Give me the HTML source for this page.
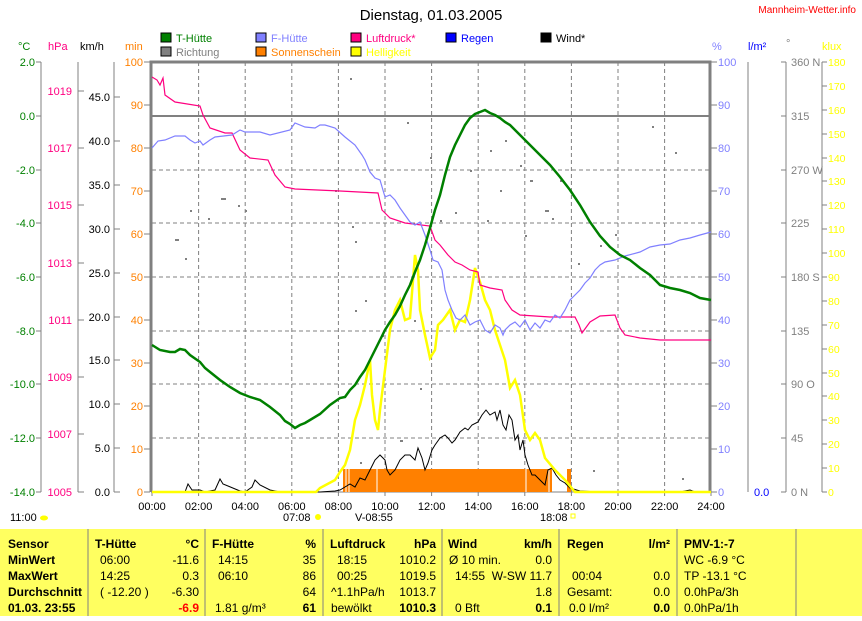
<!DOCTYPE html>
<html><head><meta charset="utf-8"><style>
body{margin:0;background:#fff;width:862px;height:616px;overflow:hidden;font-family:"Liberation Sans",sans-serif}
svg text{font-family:"Liberation Sans",sans-serif}
</style></head><body>
<svg width="862" height="616" xmlns="http://www.w3.org/2000/svg" font-size="11">
<rect width="862" height="616" fill="#fff"/>
<text x="431" y="20" font-size="15" text-anchor="middle">Dienstag, 01.03.2005</text>
<text x="856" y="13" font-size="10" fill="#f00" text-anchor="end">Mannheim-Wetter.info</text>
<!-- legend -->
<g font-size="11">
<rect x="161" y="33" width="10" height="9" fill="#008000" stroke="#000"/><text x="176" y="42" fill="#008000">T-Hütte</text>
<rect x="161" y="47" width="10" height="9" fill="#808080" stroke="#000"/><text x="176" y="56" fill="#808080">Richtung</text>
<rect x="256" y="33" width="10" height="9" fill="#8080ff" stroke="#000"/><text x="271" y="42" fill="#8080ff">F-Hütte</text>
<rect x="256" y="47" width="10" height="9" fill="#ff8000" stroke="#000"/><text x="271" y="56" fill="#ff8000">Sonnenschein</text>
<rect x="351" y="33" width="10" height="9" fill="#ff0080" stroke="#000"/><text x="366" y="42" fill="#ff0080">Luftdruck*</text>
<rect x="351" y="47" width="10" height="9" fill="#ffff00" stroke="#000"/><text x="366" y="56" fill="#ffff00">Helligkeit</text>
<rect x="446" y="33" width="10" height="9" fill="#0000ff" stroke="#000"/><text x="461" y="42" fill="#0000ff">Regen</text>
<rect x="541" y="33" width="10" height="9" fill="#000" stroke="#000"/><text x="556" y="42">Wind*</text>
</g>
<!-- axis titles -->
<text x="18" y="50" fill="#008000">°C</text>
<text x="48" y="50" fill="#ff0080">hPa</text>
<text x="80" y="50">km/h</text>
<text x="125" y="50" fill="#ff8000">min</text>
<text x="712" y="50" fill="#8080ff">%</text>
<text x="748" y="50" fill="#0000ff">l/m²</text>
<text x="786" y="47" fill="#808080">°</text>
<text x="822" y="50" fill="#ffff00">klux</text>
<!-- axis lines -->
<g stroke="#808080" stroke-width="1">
<line x1="41" y1="62" x2="41" y2="492"/><line x1="78" y1="62" x2="78" y2="492"/><line x1="114" y1="62" x2="114" y2="492"/>
<line x1="748" y1="62" x2="748" y2="492"/><line x1="786" y1="62" x2="786" y2="492"/><line x1="822" y1="62" x2="822" y2="492"/>
</g>
<g id="ticks" stroke="#808080">
<path d="M36 62h5M36 116h5M36 170h5M36 223h5M36 277h5M36 331h5M36 384h5M36 438h5M36 492h5"/>
<path d="M78 91h6M78 148h6M78 205h6M78 263h6M78 320h6M78 377h6M78 434h6M78 492h6"/>
<path d="M114 97h6M114 141h6M114 185h6M114 229h6M114 273h6M114 317h6M114 360h6M114 404h6M114 448h6M114 492h6"/>
<path d="M144 62h6M144 105h6M144 148h6M144 191h6M144 234h6M144 277h6M144 320h6M144 363h6M144 406h6M144 449h6M144 492h6"/>
<path d="M711 62h6M711 105h6M711 148h6M711 191h6M711 234h6M711 277h6M711 320h6M711 363h6M711 406h6M711 449h6M711 492h6"/>
<path d="M781 62h5M781 116h5M781 170h5M781 223h5M781 277h5M781 331h5M781 384h5M781 438h5M781 492h5"/>
<path d="M822 62h5M822 86h5M822 110h5M822 134h5M822 158h5M822 181h5M822 205h5M822 229h5M822 253h5M822 277h5M822 301h5M822 325h5M822 349h5M822 373h5M822 396h5M822 420h5M822 444h5M822 468h5M822 492h5"/>
</g>
<g fill="#008000" text-anchor="end">
<text x="35" y="66">2.0</text><text x="35" y="120">0.0</text><text x="35" y="174">-2.0</text><text x="35" y="227">-4.0</text><text x="35" y="281">-6.0</text><text x="35" y="335">-8.0</text><text x="35" y="388">-10.0</text><text x="35" y="442">-12.0</text><text x="35" y="496">-14.0</text>
</g>
<g fill="#ff0080" text-anchor="end">
<text x="72" y="95">1019</text><text x="72" y="152">1017</text><text x="72" y="209">1015</text><text x="72" y="267">1013</text><text x="72" y="324">1011</text><text x="72" y="381">1009</text><text x="72" y="438">1007</text><text x="72" y="496">1005</text>
</g>
<g fill="#000" text-anchor="end">
<text x="110" y="101">45.0</text><text x="110" y="145">40.0</text><text x="110" y="189">35.0</text><text x="110" y="233">30.0</text><text x="110" y="277">25.0</text><text x="110" y="321">20.0</text><text x="110" y="364">15.0</text><text x="110" y="408">10.0</text><text x="110" y="452">5.0</text><text x="110" y="496">0.0</text>
</g>
<g fill="#ff8000" text-anchor="end">
<text x="143" y="66">100</text><text x="143" y="109">90</text><text x="143" y="152">80</text><text x="143" y="195">70</text><text x="143" y="238">60</text><text x="143" y="281">50</text><text x="143" y="324">40</text><text x="143" y="367">30</text><text x="143" y="410">20</text><text x="143" y="453">10</text><text x="143" y="496">0</text>
</g>
<g fill="#8080ff">
<text x="718" y="66">100</text><text x="718" y="109">90</text><text x="718" y="152">80</text><text x="718" y="195">70</text><text x="718" y="238">60</text><text x="718" y="281">50</text><text x="718" y="324">40</text><text x="718" y="367">30</text><text x="718" y="410">20</text><text x="718" y="453">10</text><text x="718" y="496">0</text>
</g>
<text x="754" y="496" fill="#0000ff">0.0</text>
<g fill="#808080">
<text x="791" y="66">360 N</text><text x="791" y="120">315</text><text x="791" y="174">270 W</text><text x="791" y="227">225</text><text x="791" y="281">180 S</text><text x="791" y="335">135</text><text x="791" y="388">90  O</text><text x="791" y="442">45</text><text x="791" y="496">0  N</text>
</g>
<g fill="#ffff00" font-size="10.5">
<text x="828" y="66">180</text><text x="828" y="90">170</text><text x="828" y="114">160</text><text x="828" y="138">150</text><text x="828" y="162">140</text><text x="828" y="185">130</text><text x="828" y="209">120</text><text x="828" y="233">110</text><text x="828" y="257">100</text><text x="828" y="281">90</text><text x="828" y="305">80</text><text x="828" y="329">70</text><text x="828" y="353">60</text><text x="828" y="377">50</text><text x="828" y="400">40</text><text x="828" y="424">30</text><text x="828" y="448">20</text><text x="828" y="472">10</text><text x="828" y="496">0</text>
</g>
<!-- grid -->
<g stroke="#808080" stroke-dasharray="4,3">
<path d="M152 170H711M152 223H711M152 277H711M152 331H711M152 384H711M152 438H711"/>
<path d="M198.6 62V492M245.2 62V492M291.8 62V492M338.4 62V492M385 62V492M431.6 62V492M478.2 62V492M524.8 62V492M571.4 62V492M618 62V492M664.6 62V492"/>
</g>
<g stroke="#808080" stroke-width="3" fill="none">
<path d="M151 492V62H710V492"/>
</g>
<line x1="151" y1="116" x2="710" y2="116" stroke="#808080" stroke-width="2"/>
<line x1="151" y1="492" x2="710" y2="492" stroke="#808080" stroke-width="1"/>
<g stroke="#808080"><path d="M198.6 492v4M245.2 492v4M291.8 492v4M338.4 492v4M385 492v4M431.6 492v4M478.2 492v4M524.8 492v4M571.4 492v4M618 492v4M664.6 492v4M711 492v4M152 492v4"/></g>
<!-- direction dots -->
<g fill="#808080">
<rect x="350" y="78" width="2" height="2"/><rect x="407" y="122" width="2" height="2"/><rect x="221" y="198" width="5" height="2"/><rect x="190" y="210" width="2" height="2"/><rect x="238" y="205" width="2" height="2"/><rect x="208" y="218" width="2" height="2"/><rect x="245" y="210" width="2" height="2"/><rect x="175" y="239" width="4" height="2"/><rect x="185" y="258" width="2" height="2"/><rect x="335" y="190" width="2" height="2"/><rect x="352" y="226" width="2" height="2"/><rect x="355" y="241" width="2" height="2"/><rect x="365" y="300" width="2" height="2"/><rect x="382" y="335" width="2" height="2"/><rect x="355" y="310" width="2" height="2"/><rect x="430" y="157" width="2" height="2"/><rect x="440" y="220" width="2" height="2"/><rect x="455" y="212" width="2" height="2"/><rect x="470" y="170" width="2" height="2"/><rect x="487" y="220" width="2" height="2"/><rect x="500" y="190" width="2" height="2"/><rect x="520" y="165" width="2" height="2"/><rect x="530" y="180" width="3" height="2"/><rect x="545" y="210" width="4" height="2"/><rect x="552" y="218" width="2" height="2"/><rect x="560" y="180" width="2" height="2"/><rect x="505" y="140" width="2" height="2"/><rect x="490" y="150" width="2" height="2"/><rect x="525" y="235" width="2" height="2"/><rect x="578" y="263" width="2" height="2"/><rect x="600" y="245" width="2" height="2"/><rect x="615" y="234" width="2" height="2"/><rect x="652" y="126" width="2" height="2"/><rect x="675" y="152" width="2" height="2"/><rect x="420" y="388" width="2" height="2"/><rect x="400" y="440" width="3" height="2"/><rect x="360" y="462" width="2" height="2"/><rect x="414" y="320" width="2" height="2"/><rect x="682" y="478" width="2" height="2"/><rect x="593" y="470" width="2" height="2"/></g>
<!-- sunshine -->
<rect x="343" y="469" width="209" height="23" fill="#ff8000"/>
<rect x="567" y="469" width="4" height="23" fill="#ff8000"/>
<g stroke="#fff"><path d="M346 469v23M349 469v23M377 469v23M526 469v23M549 469v23"/></g>
<!-- wind -->
<polyline fill="none" stroke="#000" stroke-width="1" points="152,492 185,492 188,484 192,490 200,490 205,492 215,490 220,479 223,484 228,486 240,491 245,492 252,487 255,480 260,485 270,490 280,492 320,492 335,491 340,490 345,487 350,484 355,487 360,478 365,480 370,470 375,460 380,455 385,460 387,470 390,475 395,470 400,460 405,455 410,455 415,460 418,448 422,458 425,470 428,463 432,450 435,445 440,438 445,435 448,438 452,443 455,440 460,432 465,428 468,430 472,425 478,422 482,415 486,410 490,415 495,412 497,420 500,410 503,425 506,430 509,415 512,420 515,440 518,435 520,450 523,440 525,455 528,465 532,475 535,475 540,480 545,485 548,470 552,468 556,475 560,480 565,483 570,488 580,491 600,492 680,492 690,490 695,492 711,492"/>
<!-- helligkeit -->
<polyline fill="none" stroke="#ffff00" stroke-width="2.5" points="152,492 316,492 320,488 335,480 340,472 345,465 350,450 355,420 360,405 365,385 370,360 372,395 375,420 378,430 380,410 385,370 390,330 395,310 400,300 405,320 410,318 415,255 418,270 420,310 425,335 430,358 435,350 438,325 443,320 450,310 455,330 460,320 465,322 470,300 475,268 480,282 485,300 490,310 495,330 500,345 505,360 510,388 515,380 520,395 525,430 530,440 535,433 540,440 545,458 555,470 565,480 575,492 711,492"/>
<!-- luftdruck -->
<polyline fill="none" stroke="#ff0080" stroke-width="1.2" points="152,77 157,80 160,85 163,78 165,95 175,102 200,106 203,115 210,128 225,133 232,133 240,150 250,158 268,160 275,175 285,187 295,189 340,191 378,193 382,210 390,218 405,223 430,226 435,240 440,245 448,255 455,262 462,265 470,270 478,272 480,285 490,288 502,290 505,300 512,310 520,315 550,317 575,317 579,325 582,333 590,322 600,316 615,315 620,328 625,335 640,338 660,340 711,340"/>
<!-- F-Huette -->
<polyline fill="none" stroke="#8080ff" stroke-width="1.2" points="152,148 158,141 165,140 175,136 185,136 190,140 195,143 200,141 203,145 210,140 215,137 232,135 240,130 245,132 260,132 270,135 290,130 295,123 305,127 315,128 320,125 325,125 335,128 345,137 355,145 362,155 365,160 370,172 375,178 380,180 385,197 390,195 395,200 400,208 405,215 410,222 415,225 420,222 425,235 430,250 433,260 438,262 442,270 445,290 448,300 452,310 456,318 460,320 465,315 470,325 475,322 480,320 485,330 490,333 495,325 500,328 503,335 505,330 510,325 515,322 520,327 525,320 530,330 535,323 540,328 545,320 550,322 555,315 560,318 565,310 570,300 575,295 580,290 585,283 590,278 595,270 600,265 605,262 615,260 625,256 640,252 650,247 660,245 670,244 680,240 690,238 700,235 711,232"/>
<!-- T-Huette -->
<polyline fill="none" stroke="#008000" stroke-width="2.5" points="152,345 160,350 170,352 175,352 180,349 185,350 190,355 200,362 205,368 210,372 220,380 230,387 240,393 250,397 260,400 270,407 280,415 285,421 290,424 295,428 300,425 305,423 310,420 320,414 330,405 340,398 345,397 350,390 355,385 360,377 365,370 370,360 375,350 380,340 385,330 390,322 395,315 400,306 405,295 410,285 415,272 420,260 425,245 430,228 435,210 440,195 445,175 450,157 455,145 460,135 465,125 470,118 475,114 480,112 485,110 490,113 495,115 500,118 505,122 510,125 515,130 520,135 530,145 540,155 550,165 560,177 570,190 580,205 590,222 600,236 610,247 620,255 630,260 640,268 650,275 660,285 670,288 680,290 690,293 700,298 711,300"/>
<!-- time labels -->
<g text-anchor="middle">
<text x="152" y="510">00:00</text><text x="198.6" y="510">02:00</text><text x="245.2" y="510">04:00</text><text x="291.8" y="510">06:00</text><text x="338.4" y="510">08:00</text><text x="385" y="510">10:00</text><text x="431.6" y="510">12:00</text><text x="478.2" y="510">14:00</text><text x="524.8" y="510">16:00</text><text x="571.4" y="510">18:00</text><text x="618" y="510">20:00</text><text x="664.6" y="510">22:00</text><text x="711" y="510">24:00</text>
</g>
<text x="10" y="521">11:00</text><ellipse cx="44" cy="518" rx="4" ry="2.5" fill="#ffff00"/>
<text x="283" y="521">07:08</text><circle cx="318" cy="517" r="3" fill="#ffff00"/>
<text x="355" y="521">V-08:55</text>
<text x="540" y="521">18:08</text><rect x="571" y="514" width="4" height="4" fill="none" stroke="#ffff00"/>
<!-- table -->
<rect x="0" y="529" width="862" height="87" fill="#ffff60"/>
<g stroke="#808080"><path d="M88 529V616M205 529V616M323 529V616M442 529V616M559 529V616M677 529V616M796 529V616"/></g>
<g font-size="12">
<text x="8" y="548" font-weight="bold">Sensor</text><text x="8" y="564" font-weight="bold">MinWert</text><text x="8" y="580" font-weight="bold">MaxWert</text><text x="8" y="596" font-weight="bold">Durchschnitt</text><text x="8" y="612" font-weight="bold">01.03. 23:55</text>
<text x="95" y="548" font-weight="bold">T-Hütte</text><text x="199" y="548" font-weight="bold" text-anchor="end">°C</text>
<text x="100" y="564">06:00</text><text x="199" y="564" text-anchor="end">-11.6</text>
<text x="100" y="580">14:25</text><text x="199" y="580" text-anchor="end">0.3</text>
<text x="100" y="596">( -12.20 )</text><text x="199" y="596" text-anchor="end">-6.30</text>
<text x="199" y="612" text-anchor="end" fill="#f00" font-weight="bold">-6.9</text>
<text x="212" y="548" font-weight="bold">F-Hütte</text><text x="316" y="548" font-weight="bold" text-anchor="end">%</text>
<text x="218" y="564">14:15</text><text x="316" y="564" text-anchor="end">35</text>
<text x="218" y="580">06:10</text><text x="316" y="580" text-anchor="end">86</text>
<text x="316" y="596" text-anchor="end">64</text>
<text x="215" y="612">1.81 g/m³</text><text x="316" y="612" text-anchor="end" font-weight="bold">61</text>
<text x="330" y="548" font-weight="bold">Luftdruck</text><text x="436" y="548" font-weight="bold" text-anchor="end">hPa</text>
<text x="337" y="564">18:15</text><text x="436" y="564" text-anchor="end">1010.2</text>
<text x="337" y="580">00:25</text><text x="436" y="580" text-anchor="end">1019.5</text>
<text x="331" y="596">^1.1hPa/h</text><text x="436" y="596" text-anchor="end">1013.7</text>
<text x="331" y="612">bewölkt</text><text x="436" y="612" text-anchor="end" font-weight="bold">1010.3</text>
<text x="448" y="548" font-weight="bold">Wind</text><text x="552" y="548" font-weight="bold" text-anchor="end">km/h</text>
<text x="449" y="564">Ø 10 min.</text><text x="552" y="564" text-anchor="end">0.0</text>
<text x="455" y="580">14:55</text><text x="552" y="580" text-anchor="end">W-SW 11.7</text>
<text x="552" y="596" text-anchor="end">1.8</text>
<text x="455" y="612">0 Bft</text><text x="552" y="612" text-anchor="end" font-weight="bold">0.1</text>
<text x="567" y="548" font-weight="bold">Regen</text><text x="670" y="548" font-weight="bold" text-anchor="end">l/m²</text>
<text x="572" y="580">00:04</text><text x="670" y="580" text-anchor="end">0.0</text>
<text x="567" y="596">Gesamt:</text><text x="670" y="596" text-anchor="end">0.0</text>
<text x="569" y="612">0.0 l/m²</text><text x="670" y="612" text-anchor="end" font-weight="bold">0.0</text>
<text x="684" y="548" font-weight="bold">PMV-1:-7</text>
<text x="684" y="564">WC -6.9 °C</text><text x="684" y="580">TP -13.1 °C</text><text x="684" y="596">0.0hPa/3h</text><text x="684" y="612">0.0hPa/1h</text>
</g>
</svg>
</body></html>
